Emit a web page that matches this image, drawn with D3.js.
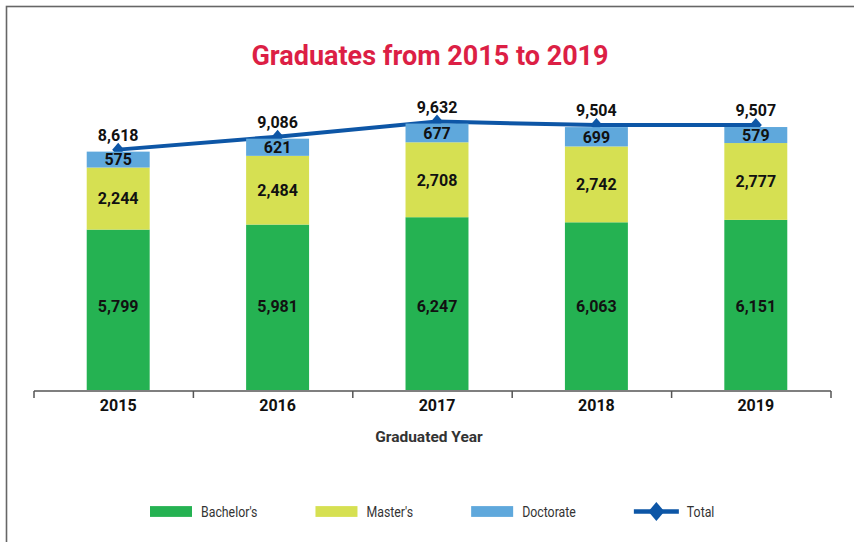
<!DOCTYPE html>
<html><head><meta charset="utf-8">
<script src="https://cdn.jsdelivr.net/npm/d3@7"></script>
<style>body{margin:0;background:#fff}</style>
</head><body><svg id="c" width="854" height="542"></svg>
<script>
const years = ["2015","2016","2017","2018","2019"];
const bachelor = [5799,5981,6247,6063,6151];
const master = [2244,2484,2708,2742,2777];
const doctorate = [575,621,677,699,579];
const total = [8618,9086,9632,9504,9507];
const seriesKeys = ["bachelor","master","doctorate"];
const legendNames = ["Bachelor's","Master's","Doctorate","Total"];
const colors = {bachelor:"#25B252", master:"#D6E052", doctorate:"#5FA8DC", total:"#0D56A6"};
const titleText = "Graduates from 2015 to 2019";
const xTitle = "Graduated Year";

const rows = years.map((y,i)=>({year:y, bachelor:bachelor[i], master:master[i], doctorate:doctorate[i], total:total[i]}));
const fmt = d3.format(",");
const NUM = "Roboto, 'Noto Sans', sans-serif";

const svg = d3.select("#c");
svg.append("rect").attr("width",854).attr("height",542).attr("fill","#fff");
svg.append("rect").attr("x",6.5).attr("y",6.5).attr("width",900).attr("height",600)
  .attr("fill","none").attr("stroke","#666").attr("stroke-width",1.6);

const base = 390;
const y = d3.scaleLinear().domain([0,10000]).range([base, base-276.6]);
const xBar = d3.scaleBand().domain(years).range([38.5,835.5]).paddingInner(0.605).paddingOuter(0.3025);
const xGrid = d3.scaleBand().domain(years).range([34,831]);
const cx = d => xBar(d) + xBar.bandwidth()/2;

// condense text horizontally (imitating a narrow typeface)
function condense(sel, f){
  sel.each(function(){
    const w = this.getComputedTextLength();
    d3.select(this).attr("textLength", w*f).attr("lengthAdjust","spacingAndGlyphs");
  });
  return sel;
}

// title
svg.append("text").attr("x",430).attr("y",65).attr("text-anchor","middle")
  .attr("font-family",NUM).attr("font-weight",700).attr("font-size",27)
  .attr("fill","#DC1F45").text(titleText);

// total line + markers (drawn under bars so bars hide lower half of markers)
const line = d3.line().x(d=>cx(d.year)).y(d=>y(d.total)-2);
svg.append("path").datum(rows).attr("d",line).attr("fill","none")
  .attr("stroke",colors.total).attr("stroke-width",4).attr("stroke-linejoin","round");
svg.selectAll(".mk").data(rows).join("path").attr("class","mk")
  .attr("d",d=>{const X=cx(d.year),Y=y(d.total)-2;return `M${X},${Y-7}L${X+6},${Y}L${X},${Y+7}L${X-6},${Y}Z`;})
  .attr("fill",colors.total);

// stacked bars
const stack = d3.stack().keys(seriesKeys)(rows);
const gBars = svg.append("g");
stack.forEach(s=>{
  gBars.selectAll(null).data(s).join("rect")
    .attr("x",d=>xBar(d.data.year)).attr("width",xBar.bandwidth())
    .attr("y",d=>y(d[1])).attr("height",d=>y(d[0])-y(d[1]))
    .attr("fill",colors[s.key]);
});

// segment labels
const bachLabelVal = d3.mean(bachelor)/2;
stack.forEach(s=>{
  svg.selectAll(null).data(s).join("text")
    .attr("x",d=>cx(d.data.year))
    .attr("y",d=> s.key==="bachelor" ? y(bachLabelVal) : (y(d[0])+y(d[1]))/2)
    .attr("dy","0.36em").attr("text-anchor","middle")
    .attr("font-family",NUM).attr("font-weight",700).attr("font-size",16).attr("fill","#111")
    .text(d=>fmt(d.data[s.key]));
});
// total labels
svg.selectAll(".tl").data(rows).join("text").attr("class","tl")
  .attr("x",d=>cx(d.year)).attr("y",d=>y(d.total)-11).attr("text-anchor","middle")
  .attr("font-family",NUM).attr("font-weight",700).attr("font-size",16).attr("fill","#111")
  .text(d=>fmt(d.total));

// axis
const gx = svg.append("g").attr("transform",`translate(0,${base+1})`);
gx.call(d3.axisBottom(xBar).tickSize(0).tickPadding(9));
gx.select(".domain").remove();
gx.selectAll("text").attr("font-family",NUM).attr("font-weight",700).attr("font-size",16).attr("fill","#111");
gx.append("line").attr("x1",xGrid.range()[0]).attr("x2",xGrid.range()[1]).attr("stroke","#555").attr("stroke-width",1.5);
const bounds = years.map(d=>xGrid(d)).concat([xGrid.range()[1]]);
gx.selectAll(".bt").data(bounds).join("line").attr("class","bt")
  .attr("x1",d=>d).attr("x2",d=>d).attr("y1",0).attr("y2",7).attr("stroke","#555").attr("stroke-width",1.5);

svg.append("text").attr("x",429).attr("y",441.5).attr("text-anchor","middle")
  .attr("font-family",NUM).attr("font-weight",700).attr("font-size",15.5).attr("fill","#333").text(xTitle);

// legend
const lg = svg.append("g");
let lx = 150; const ly = 511.5;
legendNames.forEach((name,i)=>{
  const key = i<3 ? seriesKeys[i] : "total";
  let tx;
  if(i<3){
    lg.append("rect").attr("x",lx).attr("y",ly-5.4).attr("width",42).attr("height",10.8).attr("fill",colors[key]);
    tx = lx+51;
  } else {
    lg.append("line").attr("x1",lx).attr("x2",lx+45).attr("y1",ly).attr("y2",ly).attr("stroke",colors.total).attr("stroke-width",4.5);
    const X=lx+22.5;
    lg.append("path").attr("d",`M${X},${ly-9.5}L${X+8},${ly}L${X},${ly+9.5}L${X-8},${ly}Z`).attr("fill",colors.total);
    tx = lx+53;
  }
  const t = lg.append("text").attr("x",tx).attr("y",ly).attr("dy","0.36em")
    .attr("font-family",NUM).attr("font-size",14).attr("fill","#333").text(name);
  condense(t, 0.88);
  lx = tx + t.node().getComputedTextLength() + 58;
});
</script></body></html>
